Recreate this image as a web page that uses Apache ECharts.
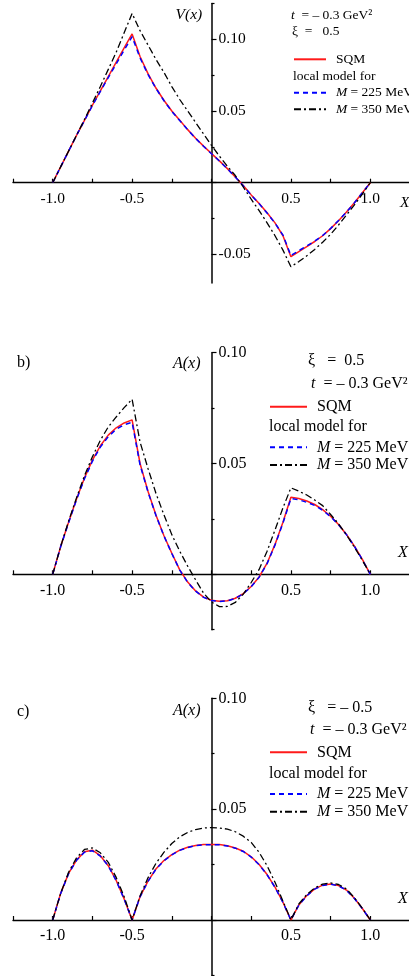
<!DOCTYPE html>
<html><head><meta charset="utf-8">
<script src="https://cdn.jsdelivr.net/npm/echarts@6/dist/echarts.min.js"></script>
<style>html,body{margin:0;padding:0;background:#fff}#c{width:409px;height:976px}</style>
</head><body><div id="c"></div>
<script>
// ---------- data ----------
const X = [-1.00,-0.95,-0.90,-0.85,-0.80,-0.75,-0.70,-0.65,-0.60,-0.55,-0.50,
  -0.45,-0.40,-0.35,-0.30,-0.25,-0.20,-0.15,-0.10,-0.05,0.00,
  0.05,0.10,0.15,0.20,0.25,0.30,0.35,0.40,0.45,0.50,
  0.55,0.60,0.65,0.70,0.75,0.80,0.85,0.90,0.95,1.00];

// panel a: V(x), xi = 0.5
const V_SQM = [0,0.011,0.022,0.033,0.0435,0.054,0.064,0.074,0.084,0.094,0.1037,
  0.088,0.076,0.066,0.0575,0.050,0.0435,0.037,0.031,0.0255,0.0203,
  0.0152,0.0098,0.004,-0.002,-0.0085,-0.0145,-0.021,-0.028,-0.037,-0.0516,
  -0.048,-0.0445,-0.041,-0.037,-0.032,-0.0265,-0.0205,-0.014,-0.007,0];
const V_M225 = [0,0.011,0.022,0.033,0.0433,0.0537,0.0636,0.0733,0.0828,0.0925,0.1018,
  0.087,0.0755,0.0658,0.0573,0.0498,0.0433,0.0369,0.0309,0.0254,0.0202,
  0.0151,0.0097,0.0039,-0.0021,-0.0086,-0.0146,-0.0212,-0.0282,-0.0365,-0.0508,
  -0.0474,-0.0441,-0.0407,-0.0368,-0.0319,-0.0264,-0.0205,-0.014,-0.007,0];
const V_M350 = [0,0.011,0.022,0.033,0.044,0.0555,0.067,0.079,0.091,0.1045,0.118,
  0.106,0.096,0.086,0.077,0.067,0.058,0.050,0.042,0.034,0.026,
  0.0185,0.0115,0.005,-0.003,-0.0115,-0.0195,-0.028,-0.037,-0.047,-0.0586,
  -0.055,-0.051,-0.0465,-0.0415,-0.036,-0.0295,-0.0225,-0.0155,-0.008,0];

// panel b: A(x), xi = 0.5
const B_SQM = [0,0.0125,0.0235,0.034,0.0435,0.0515,0.058,0.0628,0.0661,0.0683,0.0697,
  0.050,0.0375,0.0268,0.0175,0.0095,0.002,-0.0035,-0.0075,-0.0103,-0.0117,
  -0.0122,-0.0119,-0.0108,-0.0087,-0.0055,-0.0012,0.005,0.0135,0.0235,0.0348,
  0.0342,0.0331,0.0315,0.0292,0.0262,0.0225,0.018,0.0127,0.0067,0];
const B_M225 = [0,0.0124,0.0233,0.0337,0.0431,0.051,0.0574,0.0621,0.0655,0.0675,0.0686,
  0.0494,0.0372,0.0266,0.0174,0.0094,0.0019,-0.0036,-0.0076,-0.0104,-0.0118,
  -0.0123,-0.012,-0.0109,-0.0088,-0.0056,-0.0013,0.0048,0.0132,0.0231,0.0342,
  0.0336,0.0325,0.0311,0.0289,0.026,0.0224,0.0179,0.0126,0.0066,0];
const B_M350 = [0,0.0125,0.024,0.0345,0.0445,0.053,0.0605,0.0665,0.071,0.0752,0.079,
  0.0597,0.0478,0.0366,0.0269,0.0179,0.0104,0.0037,-0.0025,-0.0085,-0.0125,
  -0.0146,-0.0145,-0.0127,-0.009,-0.0037,0.0022,0.0104,0.020,0.030,0.039,
  0.0375,0.0358,0.0335,0.031,0.027,0.0228,0.0178,0.0122,0.0063,0];

// panel c: A(x), xi = -0.5
const C_SQM = [0,0.012,0.021,0.027,0.0308,0.0315,0.029,0.0245,0.0178,0.0095,0,
  0.0105,0.0175,0.023,0.0268,0.0295,0.0315,0.0328,0.0336,0.034,0.0341,
  0.034,0.0335,0.0325,0.031,0.0285,0.025,0.0205,0.0148,0.008,0,
  0.0068,0.011,0.014,0.0157,0.0162,0.0155,0.0135,0.0098,0.0052,0];
const C_M225 = [0,0.0119,0.0209,0.0269,0.0306,0.0312,0.0288,0.0244,0.0177,0.0094,0,
  0.0104,0.0174,0.0229,0.0267,0.0294,0.0314,0.0327,0.0335,0.0339,0.034,
  0.0339,0.0334,0.0324,0.0309,0.0284,0.0249,0.0204,0.0147,0.0079,0,
  0.0067,0.0109,0.0139,0.0156,0.0161,0.0154,0.0134,0.0097,0.0051,0];
const C_M350 = [0,0.012,0.0215,0.028,0.0318,0.0325,0.0303,0.026,0.0192,0.0105,0,
  0.0108,0.019,0.0255,0.0305,0.0345,0.0375,0.0395,0.0408,0.0415,0.0417,
  0.0415,0.041,0.0398,0.0378,0.035,0.0305,0.0245,0.017,0.0085,0,
  0.0072,0.0115,0.0145,0.0162,0.0167,0.016,0.014,0.010,0.0053,0];

const SERIES_NAMES = ['SQM', 'M = 225 MeV', 'M = 350 MeV'];
const X_TICK_LABELS = [-1.0, -0.5, 0.5, 1.0];
const Y_MAJOR_A = [-0.05, 0, 0.05, 0.10];
const Y_MINOR_A = [-0.025, 0.025, 0.075, 0.125];
const Y_LABELS_A = [-0.05, 0.05, 0.10];
const Y_MAJOR_BC = [0, 0.05, 0.10];
const Y_MINOR_BC = [-0.025, 0.025, 0.075];
const Y_LABELS_BC = [0.05, 0.10];

// ---------- layout ----------
const FONT = 'Liberation Serif';
const XMIN = -1.25, XMAX = 1.25, GRID_LEFT = 13, GRID_W = 397;
const PANELS = [
  {top:3.4, height:279.7, ymin:-0.07, ymax:0.125, major:Y_MAJOR_A, minor:Y_MINOR_A, labels:Y_LABELS_A, fs:15.5,
   data:[V_SQM, V_M225, V_M350]},
  {top:352.7, height:277, ymin:-0.025, ymax:0.10, major:Y_MAJOR_BC, minor:Y_MINOR_BC, labels:Y_LABELS_BC, fs:16,
   data:[B_SQM, B_M225, B_M350]},
  {top:698.3, height:277.1, ymin:-0.025, ymax:0.10, major:Y_MAJOR_BC, minor:Y_MINOR_BC, labels:Y_LABELS_BC, fs:16,
   data:[C_SQM, C_M225, C_M350]}
];
const STYLES = [
  {color:'#ff1a1a', width:1.5, type:'solid', z:3},
  {color:'#0000ff', width:1.5, type:[5,4], z:4},
  {color:'#000000', width:1.3, type:[7,3,2,3], z:5}
];

// axes cross at zero: shift the edge axes onto the zero lines
const yAxisOffset = -GRID_W * (XMAX - 0) / (XMAX - XMIN);

const grid = [], xAxis = [], yAxis = [], series = [];
PANELS.forEach((p, i) => {
  grid.push({left:GRID_LEFT, width:GRID_W, top:p.top, height:p.height, containLabel:false, outerBoundsMode:'none'});
  const xOff = -p.height * (0 - p.ymin) / (p.ymax - p.ymin);
  xAxis.push({
    type:'value', gridIndex:i, min:XMIN, max:XMAX, interval:0.25, position:'bottom', offset:xOff,
    axisLine:{onZero:false, lineStyle:{color:'#000', width:1.4}},
    axisTick:{show:true, inside:true, length:4, lineStyle:{color:'#000', width:1.2}},
    splitLine:{show:false},
    axisLabel:{interval:0, margin:8, color:'#000', fontFamily:FONT, fontSize:p.fs,
      formatter:v => X_TICK_LABELS.some(t => Math.abs(t - v) < 1e-9) ? v.toFixed(1) : ''}
  });
});
PANELS.forEach((p, i) => {
  yAxis.push({
    type:'value', gridIndex:i, min:p.ymin, max:p.ymax, position:'right', offset:yAxisOffset,
    axisLine:{show:true, onZero:false, lineStyle:{color:'#000', width:1.5}},
    axisTick:{show:true, length:5, customValues:p.major, lineStyle:{color:'#000', width:1.2}},
    splitLine:{show:false},
    axisLabel:{show:true, customValues:p.labels, margin:7, color:'#000', fontFamily:FONT, fontSize:p.fs,
      formatter:v => v.toFixed(2)}
  });
});
PANELS.forEach((p, i) => {
  yAxis.push({
    type:'value', gridIndex:i, min:p.ymin, max:p.ymax, position:'right', offset:yAxisOffset,
    axisLine:{show:false, onZero:false},
    axisTick:{show:true, length:3, customValues:p.minor, lineStyle:{color:'#000', width:1.2}},
    splitLine:{show:false},
    axisLabel:{show:false}
  });
});
PANELS.forEach((p, i) => {
  p.data.forEach((arr, k) => {
    const s = STYLES[k];
    series.push({
      type:'line', name:SERIES_NAMES[k], xAxisIndex:i, yAxisIndex:i,
      data:X.map((x, j) => [x, arr[j]]),
      symbol:'none', smooth:false, z:s.z,
      lineStyle:{color:s.color, width:s.width, type:s.type},
      itemStyle:{color:s.color}
    });
  });
});

function legendFmt(name){ return name.indexOf('M') === 0 ? '{i|M}' + name.slice(1) : name; }
function mkLegend(names, left, top, w, fs, h, gap){
  return {
    data:names, orient:'vertical', left:left, top:top, padding:0, itemGap:gap,
    itemWidth:w, itemHeight:h, selectedMode:false,
    itemStyle:{opacity:0, color:'rgba(0,0,0,0)', borderWidth:0, borderColor:'rgba(0,0,0,0)'},
    formatter:legendFmt,
    textStyle:{color:'#000', fontFamily:FONT, fontSize:fs, padding:[0,0,0,5],
      rich:{i:{fontStyle:'italic', fontFamily:FONT, fontSize:fs, color:'#000'}}}
  };
}
const legend = [
  mkLegend(['SQM'], 293, 52.3, 32, 13.5, 14, 2.6),
  mkLegend(['M = 225 MeV','M = 350 MeV'], 293, 85.7, 32, 13.5, 14, 2.6),
  mkLegend(['SQM'], 269, 398.7, 37, 16, 16, 1.7),
  mkLegend(['M = 225 MeV','M = 350 MeV'], 269, 439.3, 37, 16, 16, 1.7),
  mkLegend(['SQM'], 269, 744.3, 37, 16, 16, 1.7),
  mkLegend(['M = 225 MeV','M = 350 MeV'], 269, 786, 37, 16, 16, 1.7)
];

function txt(text, x, y, fs, italic){
  return {
    type:'text', x:x, y:y, silent:true,
    style:{text:text, fill:'#000', fontFamily:FONT, fontSize:fs, fontStyle:italic ? 'italic' : 'normal',
      align:'left', verticalAlign:'middle', textAlign:'left', textVerticalAlign:'middle',
      rich:{i:{fontStyle:'italic', fontFamily:FONT, fontSize:fs, fill:'#000'}}}
  };
}
const graphic = [
  txt('V(x)', 175.5, 15, 15.5, true),
  txt('{i|t}  = – 0.3 GeV²', 291, 15, 13.5, false),
  txt('ξ  =   0.5', 292, 31.7, 13.5, false),
  txt('local model for', 293, 76, 13.5, false),
  txt('X', 400, 203, 15.5, true),

  txt('b)', 17, 363, 16, false),
  txt('A(x)', 173, 364, 16, true),
  txt('ξ   =  0.5', 308, 361, 16, false),
  txt('{i|t}  = – 0.3 GeV²', 311, 383.3, 16, false),
  txt('local model for', 269, 426.7, 16, false),
  txt('X', 398, 552.7, 16, true),

  txt('c)', 17, 711.7, 16, false),
  txt('A(x)', 173, 710.7, 16, true),
  txt('ξ   = – 0.5', 308, 707.3, 16, false),
  txt('{i|t}  = – 0.3 GeV²', 310, 730, 16, false),
  txt('local model for', 269, 773.3, 16, false),
  txt('X', 398, 898.3, 16, true)
];

const chart = echarts.init(document.getElementById('c'), null, {renderer:'canvas'});
chart.setOption({
  animation:false,
  backgroundColor:'#fff',
  textStyle:{fontFamily:FONT},
  grid:grid, xAxis:xAxis, yAxis:yAxis, series:series, legend:legend, graphic:graphic
});
</script></body></html>
